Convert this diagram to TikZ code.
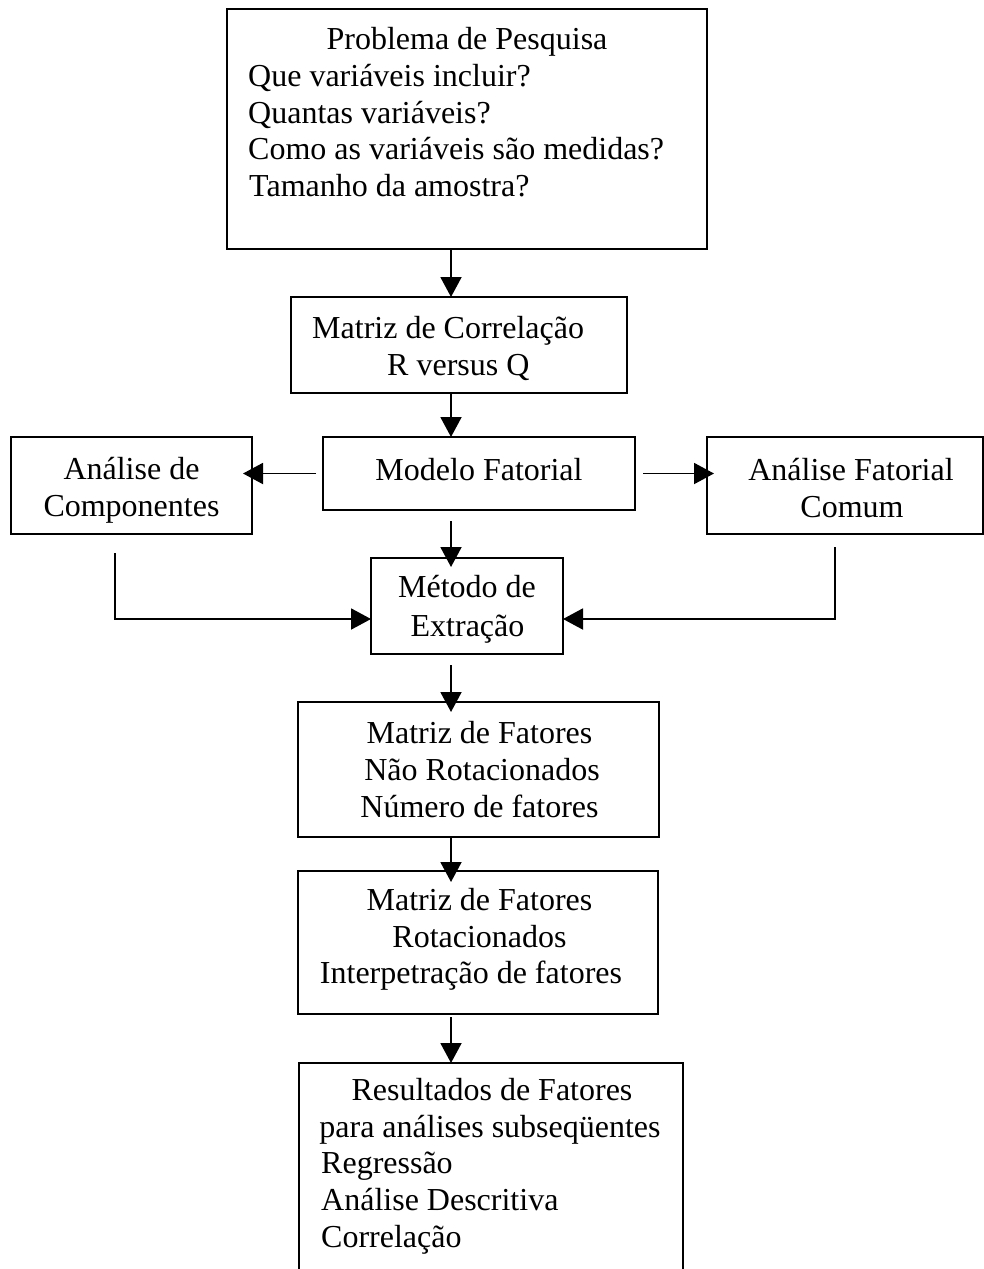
\documentclass[tikz,border=0pt]{standalone}
\usepackage{fontspec}
\setmainfont{Liberation Serif}
\usetikzlibrary{arrows.meta}
\begin{document}
\begin{tikzpicture}[x=1pt,y=-1pt,
  bx/.style={draw=black, line width=1.9pt, rectangle, inner sep=0pt, outer sep=0pt},
  tc/.style={anchor=base, inner sep=0pt, font=\fontsize{32}{37}\selectfont},
  tl/.style={anchor=base west, inner sep=0pt, font=\fontsize{32}{37}\selectfont},
  arr/.style={draw=black, line width=1.9pt, -{Triangle[width=21pt,length=20pt]}}]
\useasboundingbox (0,0) rectangle (984,1269);
\clip (0,0) rectangle (984,1269);
\fill[white] (0,0) rectangle (984,1269);

% boxes
\node[bx, minimum width=480pt, minimum height=240pt] (p) at (467,129) {};
\node[bx, minimum width=336pt, minimum height=96pt] (mc) at (459,345) {};
\node[bx, minimum width=312pt, minimum height=73pt] (mf) at (479,473.5) {};
\node[bx, minimum width=241pt, minimum height=97pt] (ac) at (131.5,485.5) {};
\node[bx, minimum width=276pt, minimum height=97pt] (af) at (845,485.5) {};
\node[bx, minimum width=192pt, minimum height=96pt] (me) at (467,606) {};
\node[bx, minimum width=361pt, minimum height=135pt] (nr) at (478.5,769.5) {};
\node[bx, minimum width=360pt, minimum height=143pt] (ro) at (478,942.5) {};
\node[bx, minimum width=384pt, minimum height=227pt] (res) at (491,1176.5) {};

% texts
\node[tc] (t1) at (467,49) {Problema de Pesquisa};
\node[tl] (t2) at (248,86) {Que variáveis incluir?};
\node[tl] (t3) at (248,123) {Quantas variáveis?};
\node[tl] (t4) at (248,159) {Como as variáveis são medidas?};
\node[tl] (t5) at (249,196) {Tamanho da amostra?};

\node[tl] (t6) at (312,338) {Matriz de Correlação};
\node[tl] (t7) at (387,375) {R versus Q};

\node[tc] (t8) at (479,480) {Modelo Fatorial};

\node[tc] (t9) at (131.5,479) {Análise de};
\node[tc] (t10) at (131.5,516) {Componentes};

\node[tc] (t11) at (851,480) {Análise Fatorial};
\node[tc] (t12) at (852,517) {Comum};

\node[tc] (t13) at (467,597) {Método de};
\node[tc] (t14) at (467.5,636) {Extração};

\node[tc] (t15) at (479.5,743) {Matriz de Fatores};
\node[tc] (t16) at (482,780) {Não Rotacionados};
\node[tc] (t17) at (479.5,817) {Número de fatores};

\node[tc] (t18) at (479.5,910) {Matriz de Fatores};
\node[tc] (t19) at (479.5,947) {Rotacionados};
\node[tc] (t20) at (471,983) {Interpetração de fatores};

\node[tc] (t21) at (492,1100) {Resultados de Fatores};
\node[tc] (t22) at (490,1137) {para análises subseqüentes};
\node[tl] (t23) at (321,1173) {Regressão};
\node[tl] (t24) at (321,1210) {Análise Descritiva};
\node[tl] (t25) at (321,1247) {Correlação};

% helper coordinates
\coordinate (ax) at (451,0);
\coordinate (lx) at (115,0);
\coordinate (rx) at (835,0);
\coordinate (ly) at (0,619);

% vertical arrows
\draw[arr] (ax |- p.south) -- (ax |- mc.north);
\draw[arr] (ax |- mc.south) -- (ax |- mf.north);
\draw[arr, shorten <=11pt, shorten >=-9pt] (ax |- mf.south) -- (ax |- me.north);
\draw[arr, shorten <=11pt, shorten >=-10pt] (ax |- me.south) -- (ax |- nr.north);
\draw[arr, shorten >=-11pt] (ax |- nr.south) -- (ax |- ro.north);
\draw[arr, shorten <=3pt] (ax |- ro.south) -- (ax |- res.north);

% horizontal arrows
\draw[arr, shorten <=7pt, shorten >=-9pt] (mf.west) -- (ac.east |- mf.west);
\draw[arr, shorten <=8pt, shorten >=-7pt] (mf.east) -- (af.west |- mf.east);

% elbow connectors
\draw[arr, shorten <=19pt] (lx |- ac.south) -- (lx |- ly) -- (me.west |- ly);
\draw[arr, shorten <=13pt] (rx |- af.south) -- (rx |- ly) -- (me.east |- ly);
\end{tikzpicture}
\end{document}
